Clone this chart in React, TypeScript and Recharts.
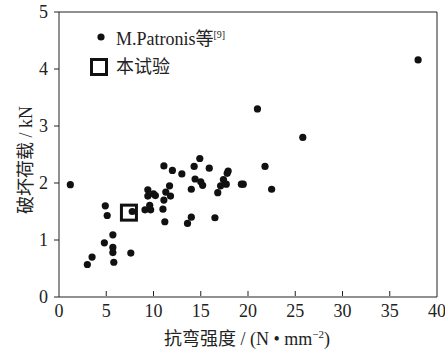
import { ScatterChart, Scatter, XAxis, YAxis, ReferenceLine, Label } from "recharts";

// M.Patronis 等 [9]: 抗弯强度 (N/mm²) vs 破坏荷载 (kN)
const patronisX = [
  1.2, 4.9, 5.1, 5.7, 4.8, 5.7, 5.7, 5.8, 3.5, 3.0, 7.6, 7.75, 9.1, 9.7, 9.6, 9.4, 9.4, 10.0, 10.2,
  11.0, 11.1, 11.3, 11.7, 11.8, 11.2, 11.1, 12.0, 13.0, 14.9, 14.3, 14.4, 15.0, 15.2, 14.0, 15.9,
  14.0, 13.6, 16.5, 17.9, 17.8, 17.4, 17.1, 17.7, 16.8, 19.3, 19.5, 21.0, 25.8, 21.8, 22.5, 38.0,
];
const patronisY = [
  1.97, 1.6, 1.43, 1.09, 0.95, 0.87, 0.78, 0.61, 0.7, 0.57, 0.77, 1.5, 1.53, 1.53, 1.61, 1.88, 1.77, 1.81,
  1.78, 1.54, 1.7, 1.84, 1.95, 1.77, 1.32, 2.3, 2.22, 2.16, 2.43, 2.29, 2.07, 2.02, 1.96, 1.89, 2.26,
  1.4, 1.29, 1.39, 2.21, 2.17, 2.06, 1.95, 1.98, 1.83, 1.98, 1.98, 3.3, 2.8, 2.29, 1.89, 4.16,
];
// 本试验
const testX = [7.4];
const testY = [1.48];

const xTicks = [0, 5, 10, 15, 20, 25, 30, 35, 40];
const yTicks = [0, 1, 2, 3, 4, 5];

const patronisData = patronisX.map((x, i) => ({ x, y: patronisY[i] }));
const testData = testX.map((x, i) => ({ x, y: testY[i] }));

const FONT = "'Liberation Serif', 'Times New Roman', 'Noto Sans CJK SC', serif";
const textStyle = { fontFamily: FONT, fontSize: 18 };

const Dot = (props: any) => <circle cx={props.cx} cy={props.cy} r={3.6} fill="#111" />;
const Box = (props: any) => (
  <rect x={props.cx - 7.5} y={props.cy - 7.5} width={15} height={15} fill="none" stroke="#111" strokeWidth={3} />
);

const XTick = (props: any) => {
  const { x, y, payload } = props;
  const v = payload.value;
  return (
    <g>
      {v > 0 && v < 40 && <line x1={x} y1={y - 1} x2={x} y2={y - 6} stroke="#222" />}
      <text x={x} y={y + 20} textAnchor="middle" style={textStyle} fill="#222">
        {v}
      </text>
    </g>
  );
};

const YTick = (props: any) => {
  const { x, y, payload } = props;
  return (
    <g>
      <line x1={x} y1={y} x2={x - 5} y2={y} stroke="#222" />
      <text x={x - 11} y={y + 6} textAnchor="end" style={textStyle} fill="#222">
        {payload.value}
      </text>
    </g>
  );
};

const LegendBox = () => (
  <div
    style={{
      position: "absolute",
      left: 88,
      top: 21,
      fontFamily: FONT,
      fontSize: 18,
      color: "#222",
      lineHeight: "28px",
    }}
  >
    <div style={{ display: "flex", alignItems: "center" }}>
      <svg width={24} height={20}>
        <circle cx={13} cy={10} r={3.6} fill="#111" />
      </svg>
      <span style={{ marginLeft: 4 }}>
        M.Patronis等<sup style={{ fontSize: 10 }}>[9]</sup>
      </span>
    </div>
    <div style={{ display: "flex", alignItems: "center" }}>
      <svg width={24} height={20}>
        <rect x={3.5} y={2.5} width={15} height={15} fill="none" stroke="#111" strokeWidth={3} />
      </svg>
      <span style={{ marginLeft: 4 }}>本试验</span>
    </div>
  </div>
);

export default function App() {
  return (
    <div style={{ position: "absolute", left: 0, top: 0, width: 445, height: 355, background: "#fff" }}>
      <ScatterChart width={445} height={355} margin={{ top: 12, right: 8, left: 58, bottom: 57 }}>
        <XAxis
          type="number"
          dataKey="x"
          domain={[0, 40]}
          ticks={xTicks}
          height={1}
          tickSize={0}
          tickMargin={0}
          tick={<XTick />}
          axisLine={{ stroke: "#222" }}
          tickLine={false}
          interval={0}
        >
          <Label
            content={() => (
              <text x={247} y={345} textAnchor="middle" style={textStyle} fill="#222">
                抗弯强度 / (N • mm
                <tspan dy={-7} style={{ fontSize: 11 }}>
                  −2
                </tspan>
                <tspan dy={7}>)</tspan>
              </text>
            )}
          />
        </XAxis>
        <YAxis
          type="number"
          dataKey="y"
          domain={[0, 5]}
          ticks={yTicks}
          width={1}
          tickSize={0}
          tickMargin={0}
          tick={<YTick />}
          axisLine={{ stroke: "#222" }}
          tickLine={false}
          interval={0}
        >
          <Label
            content={() => (
              <text
                x={26}
                y={160}
                textAnchor="middle"
                style={textStyle}
                fill="#222"
                transform="rotate(-90 26 160)"
                dy={6}
              >
                破坏荷载 / kN
              </text>
            )}
          />
        </YAxis>
        <ReferenceLine y={5} stroke="#222" ifOverflow="visible" />
        <ReferenceLine x={40} stroke="#222" ifOverflow="visible" />
        <Scatter data={patronisData} shape={<Dot />} isAnimationActive={false} />
        <Scatter data={testData} shape={<Box />} isAnimationActive={false} />
      </ScatterChart>
      <LegendBox />
    </div>
  );
}
